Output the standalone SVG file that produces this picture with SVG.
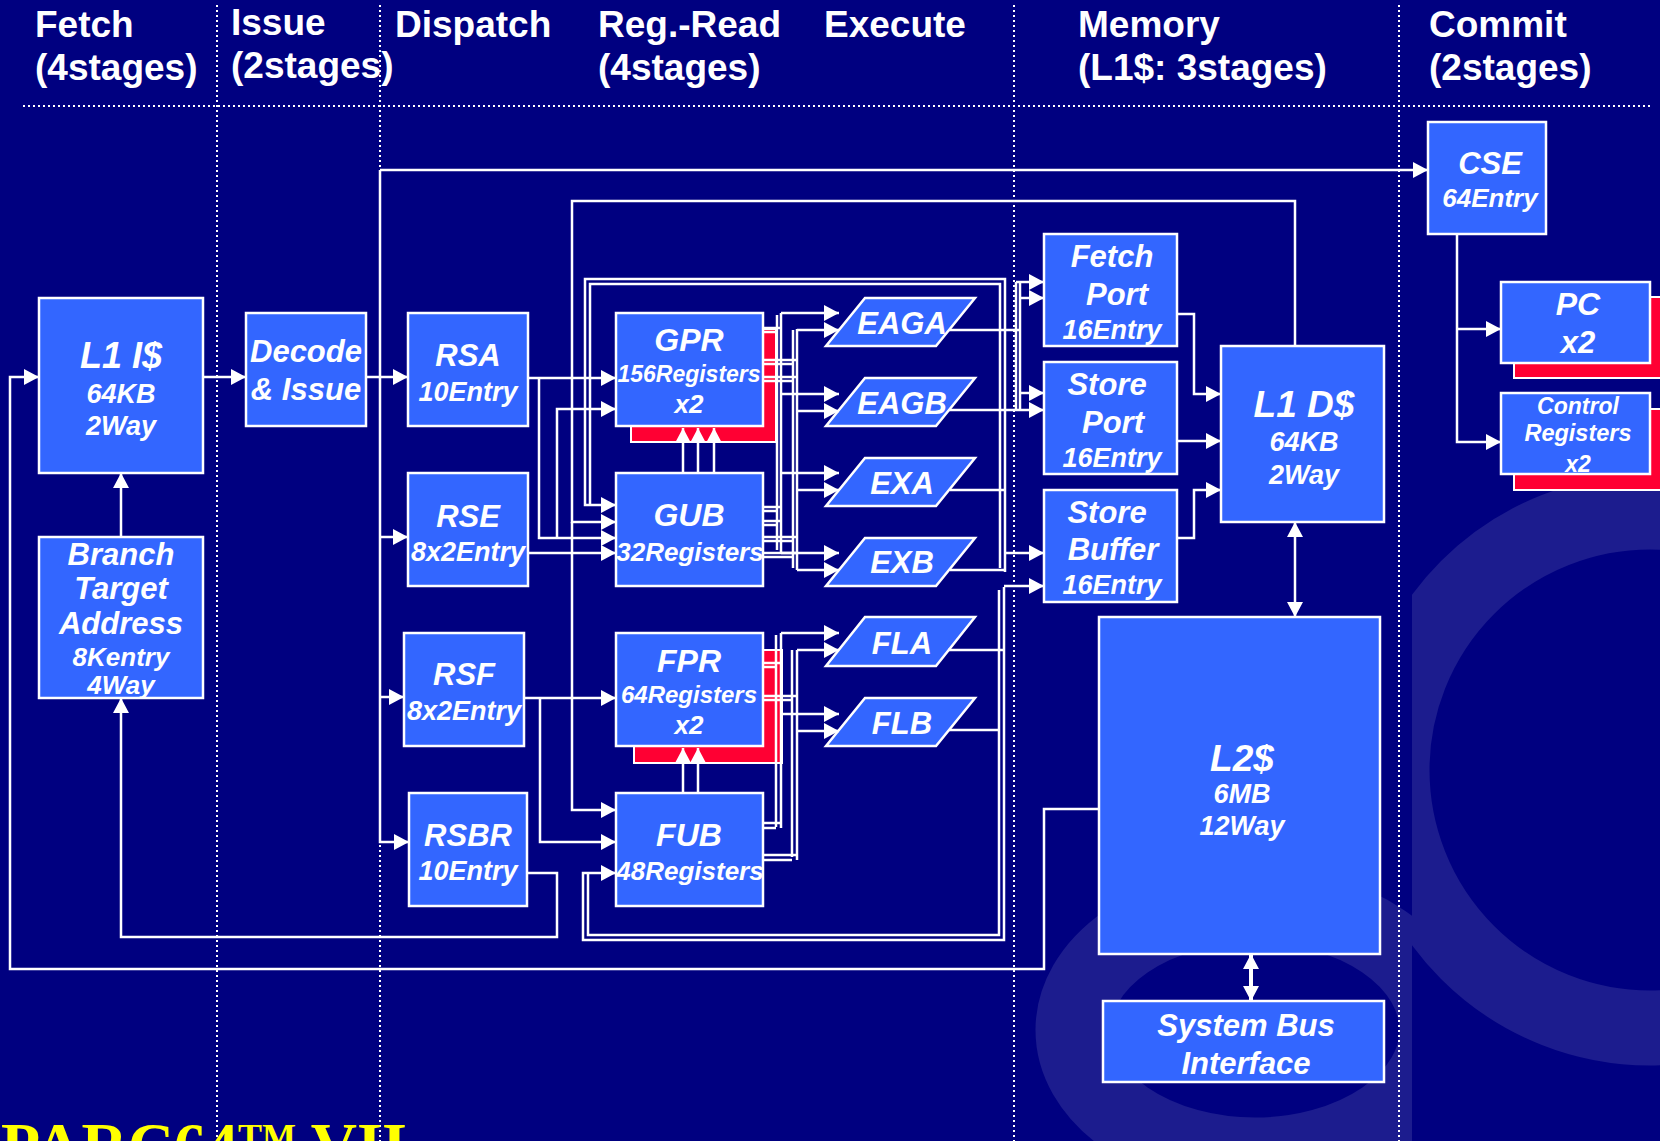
<svg xmlns="http://www.w3.org/2000/svg" width="1660" height="1141" viewBox="0 0 1660 1141">
<defs>
<style>
.bx{fill:#3366ff;stroke:#fff;stroke-width:2.5}
.rd{fill:#ff0033;stroke:#fff;stroke-width:2}
.t{font-family:"Liberation Sans",Arial,sans-serif;font-weight:bold;font-style:italic;fill:#fff;text-anchor:middle}
.h{font-family:"Liberation Sans",Arial,sans-serif;font-weight:bold;fill:#fff;font-size:37px}
.w path{fill:none;stroke:#fff;stroke-width:2.5}
.a{marker-end:url(#ah)}
.a2{marker-start:url(#ah2);marker-end:url(#ah2)}
.dot{stroke:#fff;stroke-width:2;stroke-dasharray:2 3;fill:none}
</style>
<marker id="ah" viewBox="0 0 15 16" refX="15" refY="8" markerWidth="15" markerHeight="16" markerUnits="userSpaceOnUse" orient="auto"><path d="M0,0 L15,8 L0,16 z" fill="#fff"/></marker>
<marker id="ah2" viewBox="0 0 15 16" refX="15" refY="8" markerWidth="15" markerHeight="16" markerUnits="userSpaceOnUse" orient="auto-start-reverse"><path d="M0,0 L15,8 L0,16 z" fill="#fff"/></marker>
<clipPath id="cr"><rect x="1412" y="0" width="248" height="1141"/></clipPath>
<clipPath id="cl"><rect x="900" y="0" width="512" height="1141"/></clipPath>
</defs>
<rect x="0" y="0" width="1660" height="1141" fill="#000080"/>
<g id="watermark" fill="none" stroke="#1c1c8e">
<circle cx="1650" cy="770" r="258" stroke-width="75" clip-path="url(#cr)"/>
<ellipse cx="1255" cy="1030" rx="182" ry="125" stroke-width="75" clip-path="url(#cl)"/>
</g>
<g id="gridlines">
<line class="dot" x1="23" y1="106" x2="1650" y2="106"/>
<line class="dot" x1="217" y1="5" x2="217" y2="1141"/>
<line class="dot" x1="380" y1="5" x2="380" y2="1141"/>
<line class="dot" x1="1014" y1="5" x2="1014" y2="1141"/>
<line class="dot" x1="1399" y1="5" x2="1399" y2="1141"/>
</g>
<g id="headers">
<text class="h" x="35" y="37">Fetch</text><text class="h" x="35" y="80">(4stages)</text>
<text class="h" x="231" y="35">Issue</text><text class="h" x="231" y="78">(2stages)</text>
<text class="h" x="395" y="37">Dispatch</text>
<text class="h" x="598" y="37">Reg.-Read</text><text class="h" x="598" y="80">(4stages)</text>
<text class="h" x="824" y="37">Execute</text>
<text class="h" x="1078" y="37">Memory</text><text class="h" x="1078" y="80">(L1$: 3stages)</text>
<text class="h" x="1429" y="37">Commit</text><text class="h" x="1429" y="80">(2stages)</text>
</g>
<g id="n-l1i"><rect class="bx" x="39" y="298" width="164" height="175"/>
<text class="t" x="121" y="368" font-size="36">L1 I$</text><text class="t" x="121" y="403" font-size="27">64KB</text><text class="t" x="121" y="435" font-size="27">2Way</text></g>
<g id="n-bta"><rect class="bx" x="39" y="537" width="164" height="161"/>
<text class="t" x="121" y="565" font-size="31">Branch</text><text class="t" x="121" y="599" font-size="31">Target</text><text class="t" x="121" y="634" font-size="31">Address</text><text class="t" x="121" y="666" font-size="26">8Kentry</text><text class="t" x="121" y="694" font-size="26">4Way</text></g>
<g id="n-decode"><rect class="bx" x="246" y="313" width="120" height="113"/>
<text class="t" x="306" y="362" font-size="31">Decode</text><text class="t" x="306" y="400" font-size="31">&amp; Issue</text></g>
<g id="n-rsa"><rect class="bx" x="408" y="313" width="120" height="113"/>
<text class="t" x="468" y="366" font-size="31">RSA</text><text class="t" x="468" y="401" font-size="27">10Entry</text></g>
<g id="n-rse"><rect class="bx" x="408" y="473" width="120" height="113"/>
<text class="t" x="468" y="527" font-size="31">RSE</text><text class="t" x="468" y="561" font-size="27">8x2Entry</text></g>
<g id="n-rsf"><rect class="bx" x="404" y="633" width="120" height="113"/>
<text class="t" x="464" y="685" font-size="31">RSF</text><text class="t" x="464" y="720" font-size="27">8x2Entry</text></g>
<g id="n-rsbr"><rect class="bx" x="409" y="793" width="118" height="113"/>
<text class="t" x="468" y="846" font-size="31">RSBR</text><text class="t" x="468" y="880" font-size="27">10Entry</text></g>
<g id="n-gpr"><rect class="rd" x="631" y="329" width="145" height="113"/><rect class="bx" x="616" y="313" width="147" height="113"/>
<text class="t" x="689" y="351" font-size="32">GPR</text><text class="t" x="689" y="382" font-size="23">156Registers</text><text class="t" x="689" y="413" font-size="26">x2</text></g>
<g id="n-gub"><rect class="bx" x="616" y="473" width="147" height="113"/>
<text class="t" x="689" y="526" font-size="32">GUB</text><text class="t" x="690" y="561" font-size="26">32Registers</text></g>
<g id="n-fpr"><rect class="rd" x="634" y="650" width="148" height="113"/><rect class="bx" x="616" y="633" width="147" height="113"/>
<text class="t" x="689" y="672" font-size="32">FPR</text><text class="t" x="689" y="703" font-size="24">64Registers</text><text class="t" x="689" y="734" font-size="26">x2</text></g>
<g id="n-fub"><rect class="bx" x="616" y="793" width="147" height="113"/>
<text class="t" x="689" y="846" font-size="32">FUB</text><text class="t" x="690" y="880" font-size="26">48Registers</text></g>
<g id="n-eaga"><polygon class="bx" points="865,298 975,298 936,346 826,346"/><text class="t" x="902" y="334" font-size="31">EAGA</text></g>
<g id="n-eagb"><polygon class="bx" points="865,378 975,378 936,426 826,426"/><text class="t" x="902" y="414" font-size="31">EAGB</text></g>
<g id="n-exa"><polygon class="bx" points="865,458 975,458 936,506 826,506"/><text class="t" x="902" y="494" font-size="31">EXA</text></g>
<g id="n-exb"><polygon class="bx" points="865,538 975,538 936,586 826,586"/><text class="t" x="902" y="573" font-size="31">EXB</text></g>
<g id="n-fla"><polygon class="bx" points="865,617 975,617 936,666 826,666"/><text class="t" x="902" y="654" font-size="31">FLA</text></g>
<g id="n-flb"><polygon class="bx" points="865,698 975,698 936,746 826,746"/><text class="t" x="902" y="734" font-size="31">FLB</text></g>
<g id="n-fetchport"><rect class="bx" x="1044" y="234" width="133" height="112"/>
<text class="t" x="1112" y="267" font-size="31">Fetch</text><text class="t" x="1117" y="305" font-size="31">Port</text><text class="t" x="1112" y="339" font-size="27">16Entry</text></g>
<g id="n-storeport"><rect class="bx" x="1044" y="362" width="133" height="112"/>
<text class="t" x="1107" y="395" font-size="31">Store</text><text class="t" x="1113" y="433" font-size="31">Port</text><text class="t" x="1112" y="467" font-size="27">16Entry</text></g>
<g id="n-storebuffer"><rect class="bx" x="1044" y="490" width="133" height="112"/>
<text class="t" x="1107" y="523" font-size="31">Store</text><text class="t" x="1113" y="560" font-size="31">Buffer</text><text class="t" x="1112" y="594" font-size="27">16Entry</text></g>
<g id="n-l1d"><rect class="bx" x="1221" y="346" width="163" height="176"/>
<text class="t" x="1304" y="417" font-size="37">L1 D$</text><text class="t" x="1304" y="451" font-size="27">64KB</text><text class="t" x="1304" y="484" font-size="27">2Way</text></g>
<g id="n-l2"><rect class="bx" x="1099" y="617" width="281" height="337"/>
<text class="t" x="1242" y="771" font-size="37">L2$</text><text class="t" x="1242" y="803" font-size="27">6MB</text><text class="t" x="1242" y="835" font-size="27">12Way</text></g>
<g id="n-sbi"><rect class="bx" x="1103" y="1001" width="281" height="81"/>
<text class="t" x="1246" y="1036" font-size="31">System Bus</text><text class="t" x="1246" y="1074" font-size="31">Interface</text></g>
<g id="n-cse"><rect class="bx" x="1428" y="122" width="118" height="112"/>
<text class="t" x="1490" y="174" font-size="31">CSE</text><text class="t" x="1490" y="207" font-size="26">64Entry</text></g>
<g id="n-pc"><rect class="rd" x="1514" y="297" width="160" height="81"/><rect class="bx" x="1501" y="282" width="149" height="81"/>
<text class="t" x="1578" y="315" font-size="32">PC</text><text class="t" x="1578" y="353" font-size="31">x2</text></g>
<g id="n-ctrl"><rect class="rd" x="1514" y="409" width="160" height="81"/><rect class="bx" x="1501" y="393" width="149" height="81"/>
<text class="t" x="1578" y="414" font-size="23">Control</text><text class="t" x="1578" y="441" font-size="23.5">Registers</text><text class="t" x="1578" y="472" font-size="23">x2</text></g>
<g id="connectors" class="w">
<path class="a" d="M203,377 H246"/>
<path class="a" d="M121,537 V473"/>
<path class="a" d="M527,873 H557 V937 H121 V698"/>
<path class="a" d="M1099,809 H1044 V969 H10 V377 H39"/>
<path class="a" d="M366,377 H408"/>
<path class="a" d="M380,170 V842 H409"/>
<path class="a" d="M380,537 H408"/>
<path class="a" d="M380,697 H404"/>
<path class="a" d="M380,170 H1428"/>
<path class="a" d="M528,378 H616"/>
<path class="a" d="M539,378 V538 H616"/>
<path class="a" d="M557,538 V409 H616"/>
<path class="a" d="M528,553 H616"/>
<path class="a" d="M524,698 H616"/>
<path class="a" d="M540,698 V842 H616"/>
<path class="a" d="M1295,346 V201 H572 V522 H616"/>
<path class="a" d="M572,522 V810 H616"/>
<path class="a" d="M1005,572 V279 H585 V505 H616"/>
<path d="M1000,568 V284 H590 V505"/>
<path class="a" d="M1004,587 V940 H583 V873 H616"/>
<path d="M999,590 V935 H588 V873"/>
<path d="M949,330 H1020"/>
<path class="a" d="M949,410 H1044"/>
<path d="M950,490 H1005"/>
<path d="M950,570 H1005"/>
<path d="M948,650 H1004"/>
<path d="M949,730 H999"/>
<path d="M1016,282 V410"/>
<path d="M1020,282 V410"/>
<path class="a" d="M1016,282 H1044"/>
<path class="a" d="M1020,298 H1044"/>
<path class="a" d="M1020,393 H1044"/>
<path class="a" d="M1005,553 H1044"/>
<path class="a" d="M1004,586 H1044"/>
<path d="M777,315 V550"/>
<path d="M781,313 V553"/>
<path d="M793,330 V568"/>
<path d="M797,329 V570"/>
<path class="a" d="M781,313 H839"/>
<path class="a" d="M797,330 H839"/>
<path class="a" d="M781,394 H839"/>
<path class="a" d="M797,411 H839"/>
<path class="a" d="M781,473 H839"/>
<path class="a" d="M797,490 H839"/>
<path class="a" d="M781,553 H839"/>
<path class="a" d="M797,570 H839"/>
<path d="M763,328 H781"/><path d="M763,332 H777"/>
<path d="M763,360 H797"/><path d="M763,364 H793"/>
<path d="M763,377 H797"/><path d="M763,381 H793"/>
<path d="M763,507 H781"/><path d="M763,511 H777"/>
<path d="M763,521 H781"/><path d="M763,525 H777"/>
<path d="M763,537 H797"/><path d="M763,541 H793"/>
<path d="M763,553 H797"/><path d="M763,557 H793"/>
<path d="M776,635 V827"/><path d="M781,633 V828"/>
<path d="M792,650 V857"/><path d="M797,650 V860"/>
<path class="a" d="M781,633 H839"/>
<path class="a" d="M797,650 H839"/>
<path class="a" d="M781,714 H839"/>
<path class="a" d="M797,731 H839"/>
<path d="M763,663 H781"/><path d="M763,667 H776"/>
<path d="M763,696 H797"/><path d="M763,700 H792"/>
<path d="M763,823 H781"/><path d="M763,828 H776"/>
<path d="M763,855 H797"/><path d="M763,860 H792"/>
<path class="a" d="M683,473 V428"/>
<path class="a" d="M698,473 V428"/>
<path class="a" d="M714,473 V428"/>
<path class="a" d="M683,793 V748"/>
<path class="a" d="M698,793 V748"/>
<path class="a" d="M1177,314 H1194 V394 H1221"/>
<path class="a" d="M1177,441 H1221"/>
<path class="a" d="M1177,538 H1194 V490 H1221"/>
<path class="a2" d="M1295,522 V617"/>
<path class="a2" d="M1251,954 V1001" style="stroke-width:4"/>
<path class="a" d="M1457,234 V442 H1501"/>
<path class="a" d="M1457,329 H1501"/>
</g>
<g id="title"><text x="1" y="1167" font-family="'Liberation Serif','Times New Roman',serif" font-weight="bold" font-size="64" fill="#ffff00">PARC64<tspan font-size="36" dy="-18">TM</tspan><tspan dy="18"> VII</tspan></text></g>
</svg>
